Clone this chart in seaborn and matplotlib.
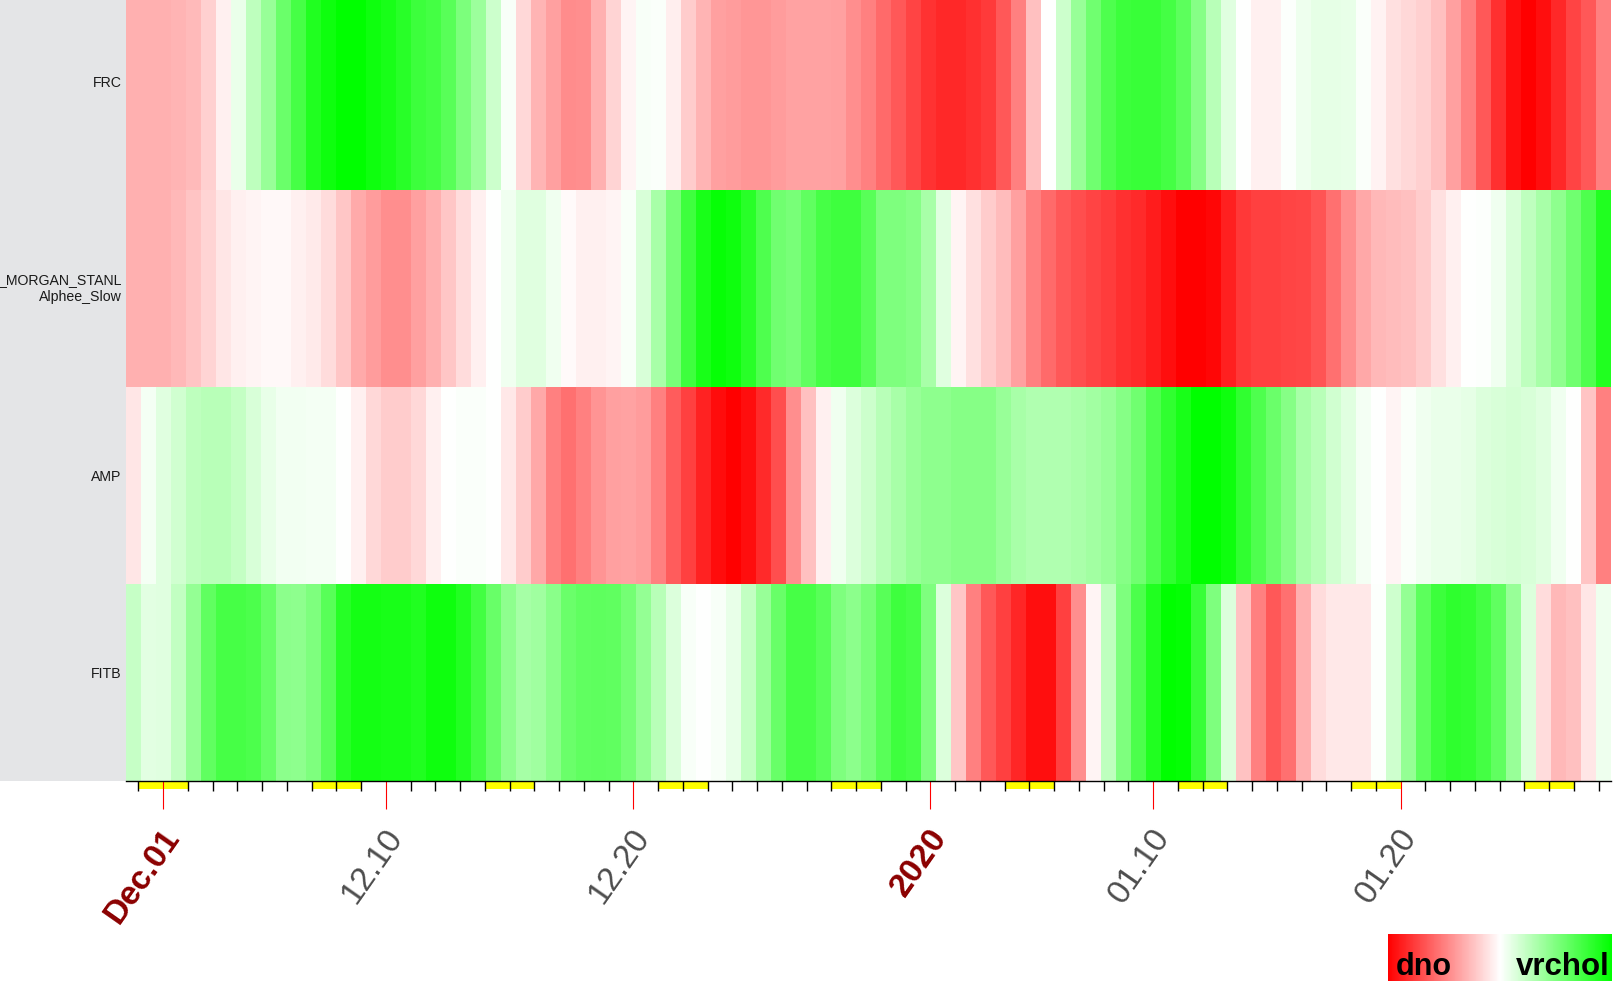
import pandas as pd
import seaborn as sns
import matplotlib.pyplot as plt
import matplotlib.dates as mdates
from matplotlib.colors import LinearSegmentedColormap
from matplotlib.patches import Rectangle
from matplotlib.ticker import FixedLocator
from matplotlib.transforms import blended_transform_factory, ScaledTranslation

# rows of the heatmap (top to bottom)
row_labels = ['FRC', '_MORGAN_STANL\nAlphee_Slow', 'AMP', 'FITB']

# -1 = dno (red), +1 = vrchol (green); 99 equal time slots per row
frc = [-0.31, -0.31, -0.31, -0.29, -0.27, -0.18, -0.06, 0.08, 0.25, 0.40,
       0.58, 0.72, 0.87, 0.94, 1.00, 1.00, 0.94, 0.90, 0.84, 0.76,
       0.73, 0.65, 0.51, 0.39, 0.20, 0.03, -0.15, -0.29, -0.37, -0.45,
       -0.44, -0.31, -0.17, -0.04, 0.03, 0.02, -0.07, -0.20, -0.29, -0.37,
       -0.39, -0.41, -0.41, -0.39, -0.36, -0.36, -0.36, -0.37, -0.44, -0.50,
       -0.58, -0.65, -0.73, -0.80, -0.84, -0.84, -0.81, -0.77, -0.65, -0.50,
       -0.25, 0.00, 0.20, 0.40, 0.56, 0.69, 0.76, 0.78, 0.78, 0.73,
       0.64, 0.47, 0.28, 0.12, 0.00, -0.06, -0.06, 0.01, 0.07, 0.10,
       0.10, 0.09, 0.02, -0.05, -0.12, -0.15, -0.18, -0.25, -0.37, -0.50,
       -0.65, -0.81, -0.94, -1.00, -0.94, -0.84, -0.73, -0.65, -0.50]
alphee = [-0.31, -0.31, -0.31, -0.28, -0.23, -0.17, -0.10, -0.06, -0.04, -0.03,
          -0.03, -0.06, -0.08, -0.14, -0.22, -0.33, -0.39, -0.44, -0.44, -0.37,
          -0.31, -0.22, -0.14, -0.06, 0.00, 0.06, 0.12, 0.12, 0.06, -0.02,
          -0.06, -0.06, -0.04, 0.03, 0.15, 0.34, 0.53, 0.75, 0.90, 0.97,
          0.94, 0.84, 0.69, 0.56, 0.53, 0.62, 0.72, 0.75, 0.75, 0.65,
          0.50, 0.50, 0.47, 0.34, 0.12, -0.04, -0.12, -0.20, -0.26, -0.37,
          -0.50, -0.58, -0.65, -0.69, -0.73, -0.76, -0.81, -0.83, -0.89, -0.94,
          -1.00, -1.00, -0.97, -0.87, -0.78, -0.75, -0.75, -0.73, -0.72, -0.67,
          -0.56, -0.44, -0.34, -0.28, -0.26, -0.25, -0.20, -0.12, -0.06, 0.00,
          0.01, 0.06, 0.15, 0.25, 0.34, 0.44, 0.56, 0.69, 0.87]
amp = [-0.10, 0.04, 0.12, 0.18, 0.25, 0.28, 0.28, 0.23, 0.15, 0.09,
       0.05, 0.05, 0.04, 0.04, 0.00, -0.06, -0.15, -0.20, -0.20, -0.15,
       -0.06, 0.00, 0.02, 0.02, 0.00, -0.09, -0.20, -0.34, -0.50, -0.56,
       -0.50, -0.42, -0.37, -0.36, -0.39, -0.50, -0.64, -0.75, -0.86, -0.95,
       -1.00, -0.94, -0.83, -0.69, -0.44, -0.25, -0.06, 0.06, 0.14, 0.20,
       0.28, 0.34, 0.40, 0.44, 0.44, 0.47, 0.47, 0.47, 0.40, 0.34,
       0.31, 0.31, 0.31, 0.33, 0.36, 0.40, 0.47, 0.56, 0.69, 0.81,
       0.90, 1.00, 1.00, 0.94, 0.81, 0.69, 0.58, 0.47, 0.34, 0.28,
       0.18, 0.12, 0.04, 0.00, -0.04, 0.02, 0.06, 0.08, 0.08, 0.10,
       0.14, 0.15, 0.17, 0.15, 0.12, 0.06, 0.00, -0.23, -0.50]
fitb = [0.22, 0.11, 0.12, 0.24, 0.42, 0.62, 0.72, 0.72, 0.70, 0.60,
        0.45, 0.44, 0.50, 0.65, 0.85, 0.92, 0.92, 0.90, 0.90, 0.87,
        0.94, 0.94, 0.86, 0.74, 0.59, 0.44, 0.35, 0.37, 0.46, 0.58,
        0.62, 0.63, 0.62, 0.54, 0.42, 0.28, 0.14, 0.03, 0.00, 0.03,
        0.09, 0.24, 0.40, 0.59, 0.72, 0.72, 0.65, 0.50, 0.45, 0.53,
        0.65, 0.75, 0.72, 0.50, 0.14, -0.22, -0.50, -0.65, -0.75, -0.85,
        -0.94, -0.94, -0.75, -0.44, -0.04, 0.25, 0.50, 0.70, 0.87, 1.00,
        0.98, 0.78, 0.50, 0.14, -0.24, -0.50, -0.65, -0.56, -0.31, -0.14,
        -0.09, -0.09, -0.09, 0.01, 0.19, 0.42, 0.64, 0.76, 0.82, 0.80,
        0.73, 0.62, 0.40, 0.14, -0.14, -0.28, -0.25, -0.10, 0.07]

# time span covered by the columns
period_start = '2019-11-29 12:00'
period_end = '2020-01-28 12:00'

# labelled dates on the time axis
label_dates = ['2019-12-01', '2019-12-10', '2019-12-20',
               '2020-01-01', '2020-01-10', '2020-01-20']
label_texts = ['Dec.01', '12.10', '12.20', '2020', '01.10', '01.20']
highlight_labels = ['Dec.01', '2020']

legend_low = 'dno'
legend_high = 'vrchol'


def main():
    plt.rcParams['font.family'] = ['Liberation Sans', 'DejaVu Sans']

    W, H = 1618, 981
    fig = plt.figure(figsize=(W / 100, H / 100), dpi=100)
    left, right = 126 / W, 1611 / W
    bottom = 1 - 781 / H
    top = 1 + 7 / H  # first row runs a little past the top edge
    rect = [left, bottom, right - left, top - bottom]
    ax_px = (top - bottom) * H

    # grey strip behind the row names
    fig.patches.append(Rectangle((0, bottom), left, 1 - bottom,
                                 transform=fig.transFigure,
                                 facecolor='#e4e5e7', edgecolor='none', zorder=-1))

    df = pd.DataFrame([frc, alphee, amp, fitb], index=row_labels)
    cmap = LinearSegmentedColormap.from_list('dno_vrchol', ['#ff0000', '#ffffff', '#00ff00'])

    ax = fig.add_axes(rect)
    cax = fig.add_axes([1388 / W, 0, 224 / W, 47 / H])
    sns.heatmap(df, cmap=cmap, vmin=-1, vmax=1, ax=ax, cbar_ax=cax,
                cbar_kws={'orientation': 'horizontal'},
                xticklabels=False, yticklabels=True)
    ax.set_yticklabels(row_labels, rotation=0, ha='right', multialignment='right')
    ax.tick_params(axis='y', length=0, pad=3, labelsize=10.2, labelcolor='#1a1a1a')
    ax.set_xlabel('')
    ax.set_ylabel('')
    # single-line names sit where the first of two lines would be
    lift = ScaledTranslation(0, 8.5 / 100, fig.dpi_scale_trans)
    for lbl in ax.get_yticklabels():
        if '\n' not in lbl.get_text():
            lbl.set_transform(lbl.get_transform() + lift)

    # colour legend
    cbar = ax.collections[0].colorbar
    cbar.outline.set_visible(False)
    cbar.set_ticks([])
    cax.text(0.034, 0.12, legend_low, transform=cax.transAxes, ha='left',
             va='baseline', fontsize=22, fontweight='bold', color='black')
    cax.text(0.988, 0.12, legend_high, transform=cax.transAxes, ha='right',
             va='baseline', fontsize=22.5, fontweight='bold', color='black')

    # time axis laid over the heatmap
    tax = fig.add_axes(rect)
    tax.patch.set_visible(False)
    for side in ['left', 'right', 'top']:
        tax.spines[side].set_visible(False)
    tax.spines['bottom'].set_color('black')
    tax.spines['bottom'].set_linewidth(1.0)
    t0 = mdates.date2num(pd.Timestamp(period_start))
    t1 = mdates.date2num(pd.Timestamp(period_end))
    tax.set_xlim(t0, t1)
    tax.set_ylim(0, 1)
    tax.set_yticks([])

    # weekends as yellow blocks under the axis line
    trans = blended_transform_factory(tax.transData, tax.transAxes)
    block_h = 8 / ax_px
    for day in pd.date_range(period_start, period_end, freq='D').normalize():
        if day.weekday() == 5:
            tax.add_patch(Rectangle((mdates.date2num(day), -block_h),
                                    2, block_h, transform=trans, clip_on=False,
                                    facecolor='#ffff00', edgecolor='none', zorder=0.5))

    tax.xaxis.set_major_locator(FixedLocator(
        [mdates.date2num(pd.Timestamp(d)) for d in label_dates]))
    tax.xaxis.set_minor_locator(mdates.DayLocator())
    tax.tick_params(axis='x', which='major', bottom=True, length=20, width=0.8,
                    color='red', pad=17, labelsize=24)
    tax.tick_params(axis='x', which='minor', bottom=True, length=7.5, width=1.0,
                    color='black')
    tax.set_xticklabels(label_texts, rotation=55, ha='right', va='center',
                        rotation_mode='anchor')
    shift = ScaledTranslation(10 / 100, 0, fig.dpi_scale_trans)
    for lbl in tax.get_xticklabels():
        lbl.set_transform(lbl.get_transform() + shift)
        if lbl.get_text() in highlight_labels:
            lbl.set_color('#8b0000')
            lbl.set_fontweight('bold')
        else:
            lbl.set_color('#4d4d4d')

    fig.savefig('out.png', dpi=100)
    plt.close(fig)


if __name__ == '__main__':
    main()
